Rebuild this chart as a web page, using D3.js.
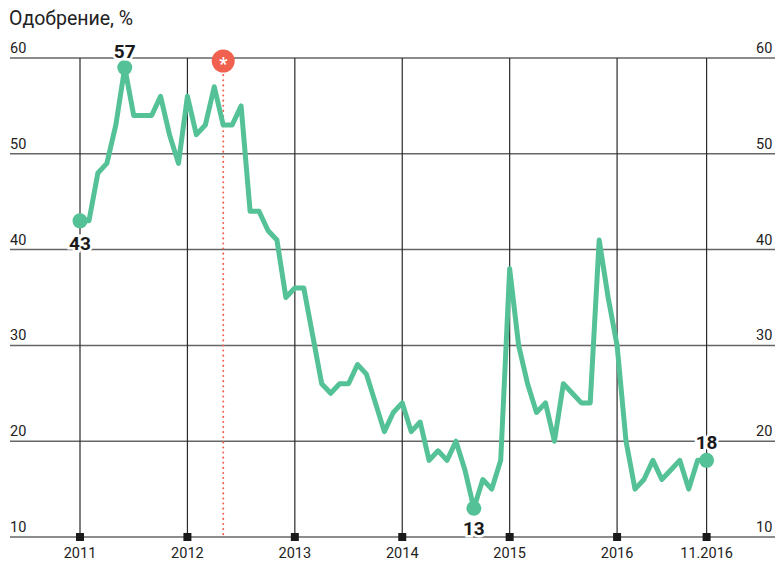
<!DOCTYPE html>
<html>
<head>
<meta charset="utf-8">
<script src="https://cdn.jsdelivr.net/npm/d3@7"></script>
<style>
  body { margin: 0; background: #fff; }
  svg { display: block; font-family: Roboto, "Noto Sans", sans-serif; }
</style>
</head>
<body>
<div class="chart"></div>
<script>
"use strict";

// monthly approval, Jan 2011 .. Nov 2016 (as drawn in the picture)
var approval = [
  43, 43, 48, 49, 53, 59, 54, 54, 54, 56, 52, 49,
  56, 52, 53, 57, 53, 53, 55, 44, 44, 42, 41, 35,
  36, 36, 31, 26, 25, 26, 26, 28, 27, 24, 21, 23,
  24, 21, 22, 18, 19, 18, 20, 17, 13, 16, 15, 18,
  38, 30, 26, 23, 24, 20, 26, 25, 24, 24, 41, 35,
  30, 20, 15, 16, 18, 16, 17, 18, 15, 18, 18
];
var xTicks = [0, 12, 24, 36, 48, 60, 70];
var xTickLabels = ["2011", "2012", "2013", "2014", "2015", "2016", "11.2016"];
var yTicks = [10, 20, 30, 40, 50, 60];
var highlights = [0, 5, 44, 70];          // labelled points
var highlightLabels = ["43", "57", "13", "18"];
var markerMonth = 16;                     // red marker, May 2012

var width = 775,
    height = 563;

var svg = d3.select(".chart")
          .append("svg")
          .attr("width", width)
          .attr("height", height);

var x = d3.scaleLinear()
    .domain([0, 70])
    .range([80, 706.6]);

var y = d3.scaleLinear()
    .domain([10, 60])
    .range([537, 58]);

var green = "#54c296",
    red = "#f0624f";

// title
svg.append("text")
    .attr("x", 9)
    .attr("y", 25)
    .style("font-size", "19.5px")
    .style("fill", "#222")
    .text("Одобрение, %");

// horizontal grid
svg.append("g")
    .selectAll("line")
    .data(yTicks)
    .enter().append("line")
        .attr("x1", 10)
        .attr("x2", width)
        .attr("y1", function(d){ return y(d); })
        .attr("y2", function(d){ return y(d); })
        .style("stroke", "#666")
        .style("stroke-width", 1.5);

// y labels left and right
svg.append("g")
    .selectAll("text")
    .data(yTicks)
    .enter().append("text")
        .attr("x", 10)
        .attr("y", function(d){ return y(d) - 5; })
        .style("font-size", "14.5px")
        .style("fill", "#222")
        .text(function(d){ return d; });

svg.append("g")
    .selectAll("text")
    .data(yTicks)
    .enter().append("text")
        .attr("x", 756)
        .attr("y", function(d){ return y(d) - 5; })
        .style("font-size", "14.5px")
        .style("fill", "#222")
        .text(function(d){ return d; });

// vertical grid
svg.append("g")
    .selectAll("line")
    .data(xTicks)
    .enter().append("line")
        .attr("x1", function(d){ return x(d); })
        .attr("x2", function(d){ return x(d); })
        .attr("y1", y(60))
        .attr("y2", y(10))
        .style("stroke", "#2a2a2a")
        .style("stroke-width", 1.2);

// tick squares
svg.append("g")
    .selectAll("rect")
    .data(xTicks)
    .enter().append("rect")
        .attr("x", function(d){ return x(d) - 4; })
        .attr("y", y(10) - 4)
        .attr("width", 8)
        .attr("height", 8)
        .style("fill", "#1a1a1a");

// x labels
svg.append("g")
    .selectAll("text")
    .data(xTicks)
    .enter().append("text")
        .attr("x", function(d){ return x(d); })
        .attr("y", 558)
        .attr("text-anchor", "middle")
        .style("font-size", "14.5px")
        .style("fill", "#222")
        .text(function(d, i){ return xTickLabels[i]; });

// red marker line
svg.append("line")
    .attr("x1", x(markerMonth))
    .attr("x2", x(markerMonth))
    .attr("y1", y(60) + 12)
    .attr("y2", y(10))
    .style("stroke", red)
    .style("stroke-width", 2)
    .style("stroke-linecap", "round")
    .style("stroke-dasharray", "0.1,5");

// approval line
var line = d3.line()
    .x(function(d, i){ return x(i); })
    .y(function(d){ return y(d); });

svg.append("path")
    .datum(approval)
    .attr("d", line)
    .style("fill", "none")
    .style("stroke", green)
    .style("stroke-width", 5)
    .style("stroke-linejoin", "round");

// end/extreme dots
svg.append("g")
    .selectAll("circle")
    .data(highlights)
    .enter().append("circle")
        .attr("cx", function(d){ return x(d); })
        .attr("cy", function(d){ return y(approval[d]); })
        .attr("r", 7.5)
        .style("fill", green);

// value labels with white knock-out
var labelDy = [29, -10, 27, -11];

svg.append("g")
    .selectAll("text")
    .data(highlights)
    .enter().append("text")
        .attr("x", function(d){ return x(d); })
        .attr("y", function(d, i){ return y(approval[d]) + labelDy[i]; })
        .attr("text-anchor", "middle")
        .style("font-size", "19px")
        .style("font-weight", "bold")
        .style("fill", "#1a1a1a")
        .style("paint-order", "stroke")
        .style("stroke", "#fff")
        .style("stroke-width", 5)
        .text(function(d, i){ return highlightLabels[i]; });

// red asterisk marker
svg.append("circle")
    .attr("cx", x(markerMonth))
    .attr("cy", y(60) + 3)
    .attr("r", 11.5)
    .style("fill", red);

svg.append("text")
    .attr("x", x(markerMonth))
    .attr("y", y(60) + 12)
    .attr("text-anchor", "middle")
    .style("font-size", "18px")
    .style("font-weight", "bold")
    .style("fill", "#fff")
    .text("*");

</script>
</body>
</html>
